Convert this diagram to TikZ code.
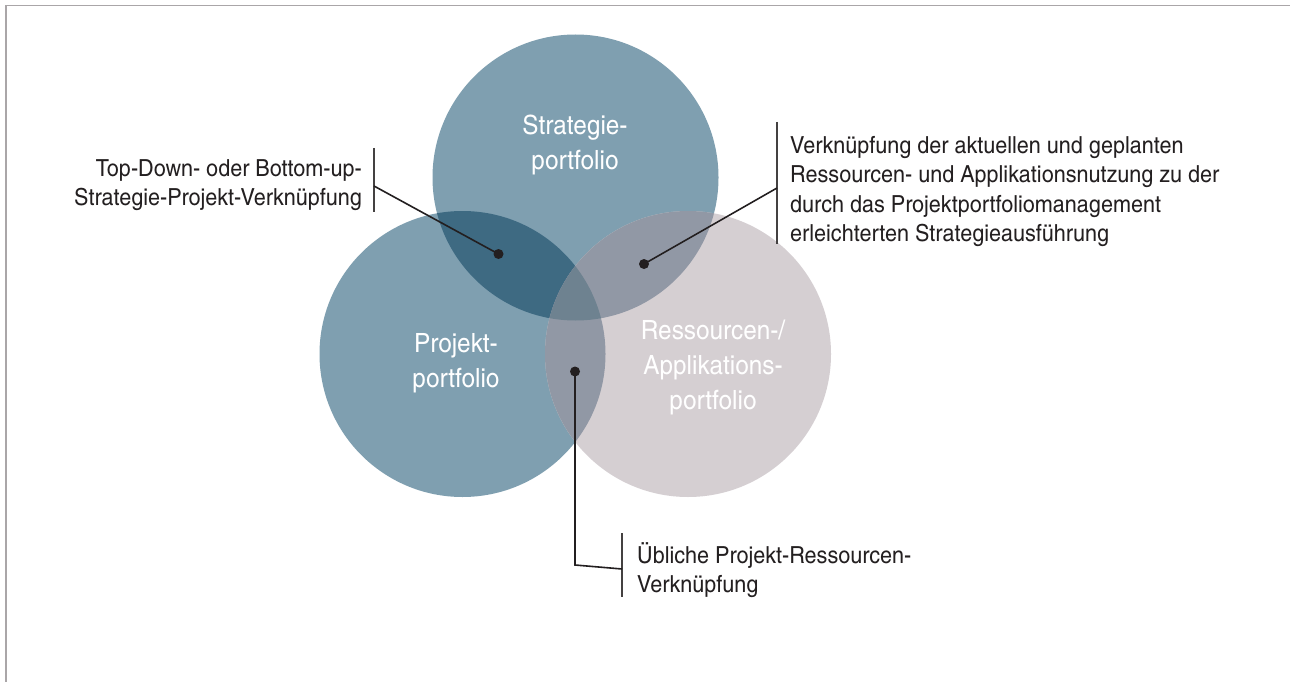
\documentclass[tikz,border=0pt]{standalone}
\usepackage{fontspec}
\setmainfont{texgyreheroscn-regular.otf}[FakeStretch=1.12]
\definecolor{blueport}{HTML}{7F9FB0}
\definecolor{darklens}{HTML}{3E6A82}
\definecolor{resport}{HTML}{D5CFD2}
\definecolor{mixlens}{HTML}{9198A5}
\definecolor{corelens}{HTML}{6E8290}
\definecolor{frameline}{HTML}{AAA6A8}
\definecolor{ink}{HTML}{231F20}
\tikzset{
  dotmark/.style={circle, fill=ink, inner sep=0pt, minimum size=10pt},
  leader/.style={draw=ink, line width=1.6pt},
  bracket/.style={draw=ink!85, line width=1.4pt},
  callout/.style={inner sep=0pt, font=\fontsize{23.5}{29.5}\selectfont, text=ink},
  circlabel/.style={inner sep=0pt, text=white, align=center, font=\fontsize{26.5}{35}\selectfont},
}
\begin{document}
\begin{tikzpicture}[x=1pt,y=-1pt]
\useasboundingbox (0,0) rectangle (1290,682);
\fill[white] (0,0) rectangle (1290,682);
\draw[frameline, line width=1.6pt] (6,682) -- (6,5.5) -- (1290,5.5);

% circle centres
\coordinate (cS) at (575.5,177.5);
\coordinate (cP) at (462.5,354);
\coordinate (cR) at (688,354);
\def\rad{143pt}

% base discs
\fill[blueport] (cS) circle[radius=\rad];
\fill[blueport] (cP) circle[radius=\rad];
\fill[resport] (cR) circle[radius=\rad];
% pairwise overlaps
\begin{scope}
  \clip (cS) circle[radius=\rad];
  \fill[darklens] (cP) circle[radius=\rad];
  \fill[mixlens] (cR) circle[radius=\rad];
\end{scope}
\begin{scope}
  \clip (cP) circle[radius=\rad];
  \fill[mixlens] (cR) circle[radius=\rad];
\end{scope}
% common core
\begin{scope}
  \clip (cS) circle[radius=\rad];
  \clip (cP) circle[radius=\rad];
  \fill[corelens] (cR) circle[radius=\rad];
\end{scope}

% circle titles
\node[circlabel, anchor=north] (tS) at (575,115) {Strategie-\\portfolio};
\node[circlabel, anchor=north] (tP) at (456,333) {Projekt-\\portfolio};
\node[circlabel, anchor=north] (tR) at (713,320) {Ressourcen-/\\Applikations-\\portfolio};

% markers
\node[dotmark] (d1) at (498.5,254) {};
\node[dotmark] (d2) at (644,264) {};
\node[dotmark] (d3) at (575,371.5) {};

% left callout
\node[callout, align=right, anchor=north east] (l1) at (362,159) {Top-Down- oder Bottom-up-\\Strategie-Projekt-Verknüpfung};
\coordinate (b1t) at (374,148);
\coordinate (b1b) at (374,212);
\coordinate (b1m) at (374,186);
\draw[bracket] (b1t) -- (b1b);
\draw[leader] (b1m) -- (d1.center);

% right callout
\node[callout, align=left, anchor=north west] (l2) at (790,136) {Verknüpfung der aktuellen und geplanten\\Ressourcen- und Applikationsnutzung zu der\\durch das Projektportfoliomanagement\\erleichterten Strategieausführung};
\coordinate (b2t) at (777,122);
\coordinate (b2b) at (777,244);
\coordinate (b2m) at (777,188);
\draw[bracket] (b2t) -- (b2b);
\draw[leader] (b2m) -- (d2.center);

% bottom callout
\node[callout, align=left, anchor=north west] (l3) at (637,542) {Übliche Projekt-Ressourcen-\\Verknüpfung};
\coordinate (b3t) at (622,533);
\coordinate (b3b) at (622,597);
\coordinate (b3m) at (622,569);
\coordinate (k3) at (575,565);
\draw[bracket] (b3t) -- (b3b);
\draw[leader] (d3.center) -- (k3) -- (b3m);
\end{tikzpicture}
\end{document}
